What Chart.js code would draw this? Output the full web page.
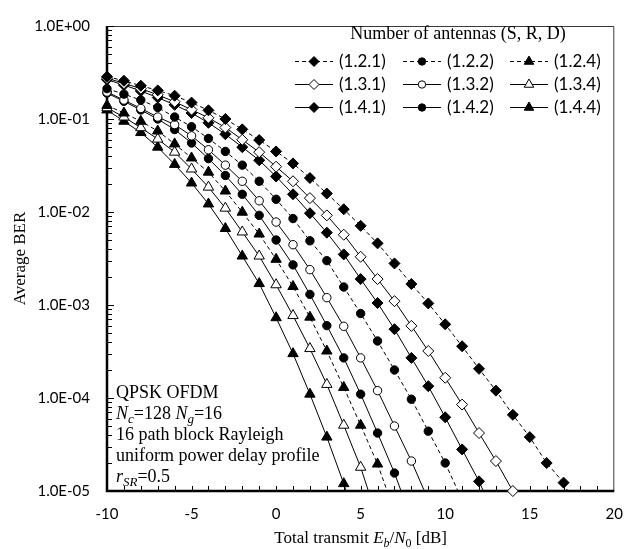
<!DOCTYPE html>
<html>
<head>
<meta charset="utf-8">
<title>BER vs total transmit Eb/N0</title>
<script src="https://cdn.jsdelivr.net/npm/chart.js@4.4.1/dist/chart.umd.min.js"></script>
<style>
  html, body { margin: 0; padding: 0; background: #ffffff; }
  #berChart { display: block; }
</style>
</head>
<body>
<canvas id="berChart" width="637" height="549"></canvas>
<script>
// Total transmit Eb/N0 grid [dB]
const snrDb = [-10, -9, -8, -7, -6, -5, -4, -3, -2, -1, 0, 1, 2, 3, 4, 5, 6, 7, 8, 9, 10, 11, 12, 13, 14, 15, 16, 17, 18];

// Average BER per antenna configuration (S.R.D), starting at -10 dB
const ber121 = [0.285, 0.258, 0.228, 0.203, 0.178, 0.150, 0.124, 0.100, 0.0774, 0.0594, 0.0448, 0.0333, 0.0232, 0.0158, 0.0107, 0.0071, 0.0046, 0.0028, 0.00168, 0.00104, 6.2e-4, 3.6e-4, 2.06e-4, 1.2e-4, 6.6e-5, 3.8e-5, 2.0e-5, 1.23e-5, 5e-6];
const ber122 = [0.212, 0.185, 0.160, 0.133, 0.105, 0.0826, 0.0618, 0.0448, 0.0319, 0.0214, 0.0137, 0.0085, 0.0049, 0.0030, 0.00156, 8.1e-4, 4.1e-4, 2.0e-4, 9.7e-5, 4.4e-5, 2.0e-5, 8e-6];
const ber124 = [0.140, 0.116, 0.0946, 0.0743, 0.054, 0.0381, 0.0268, 0.0168, 0.00995, 0.0058, 0.0031, 0.00158, 7.4e-4, 3.2e-4, 1.3e-4, 5.1e-5, 1.95e-5, 6e-6];
const ber131 = [0.275, 0.242, 0.212, 0.182, 0.153, 0.126, 0.103, 0.081, 0.0598, 0.044, 0.0307, 0.0214, 0.0141, 0.0092, 0.0057, 0.0033, 0.0019, 0.0011, 5.96e-4, 3.2e-4, 1.65e-4, 8.5e-5, 4.2e-5, 2.1e-5, 1.0e-5];
const ber132 = [0.195, 0.160, 0.130, 0.105, 0.087, 0.0659, 0.0467, 0.0319, 0.0214, 0.0132, 0.0078, 0.00445, 0.0024, 0.0012, 5.9e-4, 2.7e-4, 1.2e-4, 5.0e-5, 2.1e-5, 8e-6];
const ber134 = [0.132, 0.105, 0.0806, 0.0608, 0.044, 0.029, 0.0185, 0.011, 0.0061, 0.00336, 0.00165, 7.7e-4, 3.4e-4, 1.4e-4, 5.1e-5, 1.8e-5, 5e-6];
const ber141 = [0.265, 0.232, 0.200, 0.170, 0.142, 0.116, 0.091, 0.0686, 0.0498, 0.036, 0.0241, 0.0155, 0.0097, 0.0060, 0.0035, 0.0019, 0.00105, 5.5e-4, 2.7e-4, 1.34e-4, 6.2e-5, 2.8e-5, 1.27e-5, 5e-6];
const ber142 = [0.190, 0.155, 0.125, 0.100, 0.077, 0.0552, 0.0375, 0.0247, 0.0155, 0.0092, 0.0050, 0.0027, 0.0013, 6.0e-4, 2.7e-4, 1.1e-4, 4.2e-5, 1.56e-5, 5e-6];
const ber144 = [0.125, 0.0946, 0.0715, 0.0498, 0.0325, 0.0205, 0.0122, 0.00665, 0.00336, 0.0017, 7.3e-4, 3.0e-4, 1.1e-4, 3.8e-5, 1.2e-5, 3e-6];

const seriesLabels = ['(1.2.1)', '(1.2.2)', '(1.2.4)', '(1.3.1)', '(1.3.2)', '(1.3.4)', '(1.4.1)', '(1.4.2)', '(1.4.4)'];
const seriesValues = [ber121, ber122, ber124, ber131, ber132, ber134, ber141, ber142, ber144];

// Axis ticks
const xTickStep = 5;
const yTickValues = [1, 1e-1, 1e-2, 1e-3, 1e-4, 1e-5];
const yMinorMantissas = [2, 3, 4, 5, 6, 7, 8, 9];

const legendTitle = 'Number of antennas (S, R, D)';
const yTitle = 'Average BER';
const xTitleParts = [
    { t: 'Total transmit ' },
    { t: 'E', i: true }, { t: 'b', i: true, sub: true },
    { t: '/' },
    { t: 'N', i: true }, { t: '0', sub: true },
    { t: ' [dB]' }
];
const noteLines = [
    [{ t: 'QPSK OFDM' }],
    [{ t: 'N', i: true }, { t: 'c', i: true, sub: true }, { t: '=128 ' }, { t: 'N', i: true }, { t: 'g', i: true, sub: true }, { t: '=16' }],
    [{ t: '16 path block Rayleigh' }],
    [{ t: 'uniform power delay profile' }],
    [{ t: 'r', i: true }, { t: 'SR', i: true, sub: true }, { t: '=0.5' }]
];

// Marker look for each series (same order as seriesLabels)
const seriesStyles = [
    { shape: 'rectRot', filled: true,  dashed: true },
    { shape: 'circle',  filled: true,  dashed: true },
    { shape: 'triangle', filled: true, dashed: true },
    { shape: 'rectRot', filled: false, dashed: false },
    { shape: 'circle',  filled: false, dashed: false },
    { shape: 'triangle', filled: false, dashed: false },
    { shape: 'rectRot', filled: true,  dashed: false },
    { shape: 'circle',  filled: true,  dashed: false },
    { shape: 'triangle', filled: true, dashed: false }
];
const markerRadius = { rectRot: 5.5, circle: 4.2, triangle: 6 };

const BER_MIN = 1e-5;
const SERIF = '"Liberation Serif", "DejaVu Serif", serif';
const SANS = 'Lato, "Liberation Sans", sans-serif';

function formatSci(v) {
    const e = Math.round(Math.log10(v));
    const sign = e < 0 ? '-' : '+';
    const abs = Math.abs(e);
    return '1.0E' + sign + (abs < 10 ? '0' + abs : abs);
}

// Build datasets: marker series plus a short tail segment down to the axis
const datasets = [];
seriesValues.forEach(function(vals, i) {
    const st = seriesStyles[i];
    const pts = vals.map(function(v, k) { return { x: snrDb[k], y: v }; });
    const shown = pts.filter(function(p) { return p.y >= BER_MIN * 0.999; });
    const line = {
        borderColor: '#000000',
        borderWidth: 1,
        borderDash: st.dashed ? [4, 3] : [],
        tension: 0,
        fill: false
    };
    datasets.push(Object.assign({}, line, {
        label: seriesLabels[i],
        data: shown,
        pointStyle: st.shape,
        pointRadius: markerRadius[st.shape],
        pointBackgroundColor: st.filled ? '#000000' : '#ffffff',
        pointBorderColor: '#000000',
        pointBorderWidth: 1,
        clip: { left: 10, top: 10, right: 10, bottom: 10 },
        styleIndex: i
    }));
    if (shown.length < pts.length) {
        datasets.push(Object.assign({}, line, {
            label: seriesLabels[i] + ' tail',
            data: pts.slice(shown.length - 1, shown.length + 1),
            pointRadius: 0,
            clip: { left: 10, top: 10, right: 10, bottom: 0 },
            isTail: true
        }));
    }
});

function drawRich(ctx, parts, x, y, size, align) {
    const subSize = Math.round(size * 0.7);
    function fontOf(p) {
        return (p.i ? 'italic ' : '') + (p.sub ? subSize : size) + 'px ' + SERIF;
    }
    let total = 0;
    parts.forEach(function(p) { ctx.font = fontOf(p); total += ctx.measureText(p.t).width; });
    let cx = align === 'center' ? x - total / 2 : x;
    ctx.textAlign = 'left';
    ctx.textBaseline = 'alphabetic';
    parts.forEach(function(p) {
        ctx.font = fontOf(p);
        ctx.fillText(p.t, cx, p.sub ? y + size * 0.22 : y);
        cx += ctx.measureText(p.t).width;
    });
}

// Frame with inward ticks
const framePlugin = {
    id: 'frame',
    beforeDatasetsDraw(chart) {
        const ctx = chart.ctx;
        const { left, right, top, bottom } = chart.chartArea;
        const xs = chart.scales.x, ys = chart.scales.y;
        ctx.save();
        ctx.setLineDash([]);
        ctx.strokeStyle = '#3a3a3a';
        ctx.lineWidth = 1;
        ctx.beginPath();
        ctx.moveTo(left, top + 0.5);
        ctx.lineTo(right - 0.5, top + 0.5);
        ctx.lineTo(right - 0.5, bottom);
        ctx.stroke();

        ctx.strokeStyle = '#000000';
        ctx.beginPath();
        for (let v = xs.min + 1; v < xs.max; v++) {
            const px = Math.round(xs.getPixelForValue(v)) + 0.5;
            ctx.moveTo(px, bottom);
            ctx.lineTo(px, bottom - 5);
        }
        yTickValues.forEach(function(dec) {
            if (dec < 1) {
                yMinorMantissas.forEach(function(m) {
                    const py = Math.round(ys.getPixelForValue(m * dec)) + 0.5;
                    ctx.moveTo(left, py);
                    ctx.lineTo(left + 5, py);
                });
            }
            const py = Math.round(ys.getPixelForValue(dec)) + 0.5;
            ctx.moveTo(left, py);
            ctx.lineTo(left + 7, py);
        });
        ctx.stroke();

        ctx.lineWidth = 2.5;
        ctx.beginPath();
        ctx.moveTo(left, top);
        ctx.lineTo(left, bottom);
        ctx.lineTo(right, bottom);
        ctx.stroke();
        ctx.restore();
    }
};

// Legend, x title and notes
const textPlugin = {
    id: 'texts',
    afterDraw(chart) {
        const ctx = chart.ctx;
        const area = chart.chartArea;
        ctx.save();
        ctx.fillStyle = '#000000';

        // legend
        ctx.font = '18px ' + SERIF;
        ctx.textAlign = 'center';
        ctx.textBaseline = 'alphabetic';
        ctx.fillText(legendTitle, 458, 39);

        const rowY = [61, 84, 107];
        const colX = [339, 447, 554];
        chart.data.datasets.forEach(function(ds) {
            if (ds.isTail) return;
            const i = ds.styleIndex;
            const st = seriesStyles[i];
            const lx = colX[i % 3];
            const ly = rowY[Math.floor(i / 3)];
            ctx.strokeStyle = '#000000';
            ctx.lineWidth = 1;
            ctx.setLineDash(st.dashed ? [4, 3] : []);
            ctx.beginPath();
            ctx.moveTo(lx - 44, ly + 0.5);
            ctx.lineTo(lx - 6, ly + 0.5);
            ctx.stroke();
            ctx.setLineDash([]);
            ctx.fillStyle = st.filled ? '#000000' : '#ffffff';
            Chart.helpers.drawPoint(ctx, {
                pointStyle: st.shape,
                radius: markerRadius[st.shape] - 0.5,
                rotation: 0,
                borderWidth: 1
            }, lx - 25, ly + 0.5);
            ctx.fillStyle = '#000000';
            ctx.font = '17px ' + SANS;
            ctx.textAlign = 'left';
            ctx.textBaseline = 'middle';
            ctx.fillText(ds.label, lx, ly + 1);
        });

        // x axis title
        drawRich(ctx, xTitleParts, (area.left + area.right) / 2, 543, 17, 'center');

        // simulation notes
        noteLines.forEach(function(parts, k) {
            drawRich(ctx, parts, area.left + 9, 398 + k * 21, 18, 'left');
        });
        ctx.restore();
    }
};

new Chart(document.getElementById('berChart').getContext('2d'), {
    type: 'line',
    data: { datasets: datasets },
    options: {
        responsive: false,
        animation: false,
        devicePixelRatio: 1,
        layout: { padding: { top: 14, right: 20, left: 0, bottom: 0 } },
        plugins: {
            legend: { display: false },
            tooltip: { enabled: false }
        },
        scales: {
            x: {
                type: 'linear',
                min: -10,
                max: 20,
                grid: { display: false, drawTicks: false },
                border: { display: false },
                ticks: {
                    stepSize: xTickStep,
                    color: '#000000',
                    font: { family: SANS, size: 15 },
                    padding: 14,
                    maxRotation: 0
                },
                afterFit: function(scale) { scale.height = 58; }
            },
            y: {
                type: 'logarithmic',
                min: BER_MIN,
                max: 1,
                grid: { display: false, drawTicks: false },
                border: { display: false },
                afterBuildTicks: function(scale) {
                    scale.ticks = yTickValues.map(function(v) { return { value: v }; });
                },
                ticks: {
                    autoSkip: false,
                    color: '#000000',
                    font: { family: SANS, size: 15 },
                    padding: 17,
                    callback: function(value) { return formatSci(value); }
                },
                title: {
                    display: true,
                    text: yTitle,
                    color: '#000000',
                    font: { family: SERIF, size: 17 },
                    padding: { top: 10, bottom: 0 }
                },
                afterFit: function(scale) { scale.width = 107; }
            }
        }
    },
    plugins: [framePlugin, textPlugin]
});
</script>
</body>
</html>
